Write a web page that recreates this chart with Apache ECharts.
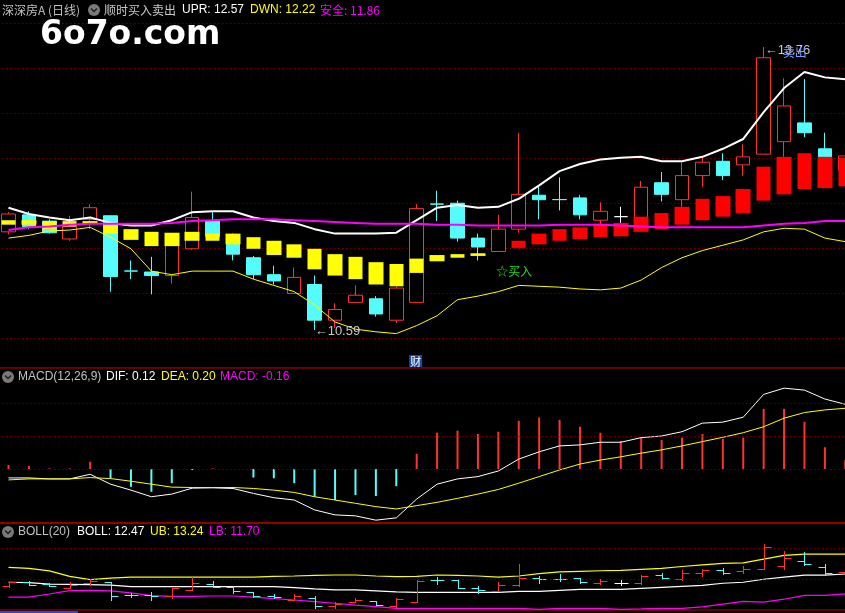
<!DOCTYPE html>
<html><head><meta charset="utf-8">
<script src="https://cdn.jsdelivr.net/npm/echarts@6/dist/echarts.min.js"></script>
<style>html,body{margin:0;padding:0;background:#000;overflow:hidden;width:845px;height:613px;position:relative;}
#c{position:absolute;left:-2px;top:0;width:859px;height:613px;}</style>
</head><body><div id="c"></div>
<script>
// ---------- data ----------
const categories = ['1','2','3','4','5','6','7','8','9','10','11','12','13','14','15','16','17','18','19','20','21','22','23','24','25','26','27','28','29','30','31','32','33','34','35','36','37','38','39','40','41','42'];
const kOpen  = [11.69,11.88,11.81,11.61,11.83,11.87,11.252,11.24,11.20,11.50,11.81,11.64,11.40,11.21,11.00,11.10,10.70,10.90,10.94,10.70,10.90,12.002,12.01,11.62,11.47,11.72,12.10,12.052,12.07,11.82,11.86,11.84,12.24,12.05,12.32,12.48,12.44,12.56,12.70,12.91,12.62,12.38];
const kClose = [11.89,11.75,11.68,11.75,11.96,11.19,11.25,11.20,11.58,11.85,11.64,11.44,11.21,11.14,11.18,10.70,10.82,10.98,10.77,11.06,11.95,12.00,11.62,11.52,11.72,12.11,12.05,12.05,11.88,11.92,11.86,12.19,12.11,12.32,12.47,12.32,12.53,13.64,13.10,12.80,12.32,12.54];
const kLow   = [11.66,11.72,11.67,11.59,11.72,11.02,11.16,10.99,11.11,11.49,11.63,11.37,11.16,11.10,11.00,10.59,10.61,10.90,10.74,10.67,10.90,11.81,11.58,11.37,11.47,11.68,11.83,11.93,11.83,11.78,11.74,11.80,12.03,11.97,12.19,12.27,12.32,12.56,12.53,12.75,12.24,12.33];
const kHigh  = [11.91,11.92,11.83,11.87,12.00,11.87,11.37,11.41,11.62,12.14,11.92,11.67,11.42,11.31,11.29,11.20,10.89,11.09,10.97,11.08,12.00,12.15,12.04,11.67,11.88,12.80,12.21,12.30,12.10,12.02,11.97,12.26,12.36,12.47,12.53,12.57,12.67,13.76,13.41,13.40,12.80,12.57];

// 顺时买入卖出 blocks (UPR top / DWN bottom), trend 0 = yellow, 1 = red
const upr   = [11.82,11.82,11.81,11.81,11.81,11.77,11.72,11.69,11.68,11.69,11.67,11.67,11.63,11.59,11.55,11.50,11.44,11.41,11.35,11.33,11.39,11.43,11.44,11.45,'-',11.59,11.67,11.72,11.74,11.78,11.79,11.86,11.90,11.97,12.06,12.09,12.17,12.42,12.53,12.57,12.53,12.52];
const dwn   = [11.77,11.77,11.72,11.75,11.78,11.67,11.60,11.53,11.53,11.59,11.59,11.55,11.50,11.43,11.40,11.27,11.20,11.16,11.10,11.08,11.23,11.36,11.40,11.42,'-',11.51,11.55,11.59,11.61,11.63,11.64,11.69,11.72,11.77,11.82,11.86,11.90,12.04,12.11,12.17,12.18,12.20];
const trend = [0,0,0,0,0,0,0,0,0,0,0,0,0,0,0,0,0,0,0,0,0,0,0,0,null,1,1,1,1,1,1,1,1,1,1,1,1,1,1,1,1,1];

const upperLine = [11.96,11.89,11.85,11.82,11.85,11.79,11.76,11.76,11.82,11.91,11.92,11.92,11.85,11.81,11.79,11.72,11.67,11.67,11.67,11.68,11.82,11.96,11.99,11.96,11.97,12.06,12.21,12.37,12.45,12.50,12.52,12.53,12.48,12.48,12.53,12.62,12.73,13.03,13.30,13.48,13.42,13.40];
const safeLine  = [11.71,11.74,11.75,11.77,11.78,11.78,11.78,11.78,11.79,11.81,11.82,11.83,11.83,11.83,11.82,11.81,11.80,11.79,11.78,11.78,11.78,11.77,11.77,11.76,11.76,11.76,11.76,11.77,11.77,11.77,11.76,11.75,11.74,11.74,11.74,11.74,11.74,11.76,11.78,11.79,11.81,11.81];
const lowerLine = [11.62,11.65,11.70,11.71,11.74,11.63,11.50,11.25,11.21,11.25,11.25,11.25,11.16,11.09,11.02,10.87,10.68,10.60,10.57,10.55,10.64,10.75,10.93,10.97,11.02,11.09,11.08,11.07,11.05,11.04,11.06,11.15,11.29,11.40,11.48,11.54,11.60,11.69,11.73,11.72,11.62,11.58];

const dif  = [-0.027,-0.027,-0.030,-0.030,-0.016,-0.046,-0.064,-0.084,-0.076,-0.058,-0.057,-0.059,-0.074,-0.087,-0.094,-0.124,-0.139,-0.142,-0.155,-0.148,-0.091,-0.046,-0.030,-0.023,-0.006,0.030,0.052,0.070,0.073,0.081,0.081,0.095,0.100,0.113,0.139,0.142,0.157,0.226,0.245,0.239,0.212,0.196];
const dea  = [-0.033,-0.030,-0.030,-0.030,-0.026,-0.029,-0.037,-0.046,-0.055,-0.056,-0.056,-0.056,-0.059,-0.064,-0.071,-0.084,-0.094,-0.104,-0.114,-0.121,-0.111,-0.101,-0.089,-0.076,-0.062,-0.043,-0.023,-0.003,0.015,0.027,0.037,0.048,0.058,0.070,0.083,0.096,0.110,0.128,0.154,0.171,0.179,0.184];
const macd = [0.012,0.009,0.002,0.002,0.022,-0.028,-0.054,-0.069,-0.043,-0.003,0.002,0,-0.026,-0.028,-0.043,-0.084,-0.094,-0.079,-0.082,-0.052,0.046,0.110,0.116,0.106,0.113,0.146,0.156,0.149,0.128,0.110,0.085,0.095,0.088,0.095,0.106,0.091,0.095,0.182,0.182,0.143,0.066,0.027];

const bollUB  = [12.62,12.57,12.44,12.17,12.01,12.08,12.13,12.13,12.13,12.13,12.13,12.13,12.13,12.17,12.19,12.22,12.24,12.24,12.19,12.16,12.17,12.24,12.22,12.19,12.13,12.19,12.31,12.39,12.42,12.45,12.47,12.52,12.57,12.66,12.74,12.82,12.84,13.03,13.21,13.27,13.27,13.27];
const bollMid = [11.88,11.86,11.79,11.78,11.76,11.74,11.66,11.66,11.66,11.66,11.66,11.66,11.66,11.66,11.61,11.55,11.50,11.50,11.45,11.40,11.38,11.38,11.38,11.38,11.38,11.43,11.43,11.48,11.53,11.53,11.53,11.58,11.63,11.68,11.73,11.83,11.88,12.03,12.13,12.23,12.23,12.29];
const bollLB  = [11.14,11.14,11.30,11.47,11.48,11.45,11.35,11.22,11.18,11.18,11.20,11.20,11.14,11.07,11.00,10.92,10.84,10.75,10.67,10.59,10.59,10.59,10.59,10.59,10.59,10.59,10.54,10.59,10.59,10.59,10.54,10.56,10.59,10.59,10.66,10.80,10.93,10.90,11.04,11.23,11.23,11.30];

const buyIdx = 24;      // ☆买入 signal bar
const financeIdx = 20;  // 财 marker bar

const headerMain = ['深深房A (日线)', '顺时买入卖出', 'UPR: 12.57', 'DWN: 12.22', '安全: 11.86'];
const headerMacd = ['MACD(12,26,9)', 'DIF: 0.12', 'DEA: 0.20', 'MACD: -0.16'];
const headerBoll = ['BOLL(20)', 'BOLL: 12.47', 'UB: 13.24', 'LB: 11.70'];

// ---------- styling ----------
const OX = 2; // canvas is shifted 2px left so the first bar sits at the page edge
const RED = '#ff3232', CYAN = '#54fcfc', WHITE = '#ffffff', YEL = '#ffff00', MAG = '#ff00ff';
const BLOCK_RED = '#ff0000';
const GRIDRED = '#a00000', BORDER = '#c00000';
const LAT = '"Liberation Sans", Arial, "Noto Sans CJK SC", sans-serif';
const CJK = '"Noto Sans CJK SC", "Liberation Sans", sans-serif';

const chart = echarts.init(document.getElementById('c'), null, {renderer: 'canvas', width: 859, height: 613});

const candleData = kOpen.map((o, i) => {
  const item = {value: [o, kClose[i], kLow[i], kHigh[i]]};
  if (o === kClose[i]) {
    item.itemStyle = {color: WHITE, color0: WHITE, borderColor: WHITE, borderColor0: WHITE, borderColorDoji: WHITE};
  }
  return item;
});
const blockData = upr.map((u, i) => {
  if (u === '-') return ['-', '-', '-', '-'];
  const col = trend[i] ? BLOCK_RED : YEL;
  return {value: [dwn[i], u, dwn[i], u], itemStyle: {color: col, color0: col, borderColor: col, borderColor0: col}};
});
const ohlcData = kOpen.map((o, i) => [i, o, kClose[i], kLow[i], kHigh[i]]);

let lowIdx = 0, highIdx = 0;
kLow.forEach((v, i) => { if (v < kLow[lowIdx]) lowIdx = i; });
kHigh.forEach((v, i) => { if (v > kHigh[highIdx]) highIdx = i; });

const hidden = {show: false};
const xAxisBase = (gi) => ({type: 'category', gridIndex: gi, data: categories, boundaryGap: true,
  axisLine: hidden, axisTick: hidden, axisLabel: hidden, splitLine: hidden});
const dotted = {color: GRIDRED, type: [1, 3], width: 1};

function icon(cx, cy) {
  return [
    {type: 'circle', shape: {cx: cx + OX, cy: cy, r: 6}, style: {fill: '#7a7a7a'}, z: 100},
    {type: 'polyline', shape: {points: [[cx + OX - 3, cy - 1.5], [cx + OX, cy + 1.5], [cx + OX + 3, cy - 1.5]]}, style: {stroke: '#202020', lineWidth: 1.5, fill: null}, z: 101}
  ];
}
function txt(x, y, text, fill, fam) {
  return {type: 'text', x: x + OX, y: y, z: 100, style: {text: text, fill: fill, font: '12px ' + (fam || LAT), verticalAlign: 'middle', align: 'left'}};
}

const gridL = 0.3, gridW = 857.2;
const option = {
  backgroundColor: '#000000',
  animation: false,
  grid: [
    {left: gridL, width: gridW, top: 23, height: 344, show: false},
    {left: gridL, width: gridW, top: 368, height: 155, show: true, borderColor: BORDER, borderWidth: 1, backgroundColor: 'transparent'},
    {left: gridL, width: gridW, top: 523, height: 87, show: true, borderColor: BORDER, borderWidth: 1, backgroundColor: 'transparent'}
  ],
  xAxis: [xAxisBase(0), xAxisBase(1), xAxisBase(2)],
  yAxis: [
    {type: 'value', gridIndex: 0, min: 10.176, max: 14.029, show: false},
    {type: 'value', gridIndex: 0, inverse: true, min: 0, max: 7.6444, interval: 1,
      axisLine: hidden, axisTick: hidden, axisLabel: hidden, splitLine: {show: true, lineStyle: dotted}},
    {type: 'value', gridIndex: 1, min: -0.1636, max: 0.306, show: false},
    {type: 'value', gridIndex: 2, min: 10.506, max: 14.815, show: false}
  ],
  series: [
    {
      name: 'K', type: 'candlestick', xAxisIndex: 0, yAxisIndex: 0, z: 2, barWidth: 14,
      data: candleData,
      itemStyle: {color: '#000000', color0: CYAN, borderColor: RED, borderColor0: CYAN, borderColorDoji: CYAN, borderWidth: 1},
      markPoint: {
        symbol: 'circle', symbolSize: 0, silent: true, animation: false,
        data: [
          {coord: [lowIdx, kLow[lowIdx]], label: {show: true, position: 'inside', align: 'left', verticalAlign: 'middle', offset: [0, 1],
            formatter: '←' + kLow[lowIdx].toFixed(2), color: '#c8c8c8', fontSize: 13, fontFamily: LAT}},
          {coord: [highIdx, kHigh[highIdx]], label: {show: true, position: 'inside', align: 'left', verticalAlign: 'middle', offset: [1, 3],
            formatter: '←' + kHigh[highIdx].toFixed(2), color: '#c8c8c8', fontSize: 13, fontFamily: LAT}},
          {coord: [highIdx, kHigh[highIdx]], label: {show: true, position: 'inside', align: 'left', verticalAlign: 'middle', offset: [19, 5],
            formatter: '卖出', color: '#7b9cff', fontSize: 12, fontFamily: CJK}},
          {coord: [financeIdx, 10.176], label: {show: true, position: 'inside', align: 'center', verticalAlign: 'bottom', offset: [-1, 0],
            formatter: '财', color: '#ffffff', fontSize: 11, fontFamily: CJK, backgroundColor: '#1f4a9a', padding: [1, 1, 0, 1]}}
        ]
      }
    },
    {
      name: 'blocks', type: 'candlestick', xAxisIndex: 0, yAxisIndex: 0, z: 3, barWidth: 15,
      data: blockData,
      itemStyle: {borderWidth: 0},
      markPoint: {
        symbol: 'circle', symbolSize: 0, silent: true, animation: false,
        data: [
          {coord: [buyIdx, kLow[buyIdx]], label: {show: true, position: 'inside', align: 'left', verticalAlign: 'middle', offset: [-2, 20],
            formatter: '☆买入', color: '#22dd22', fontSize: 12, fontFamily: CJK}}
        ]
      }
    },
    {name: 'UPPER', type: 'line', xAxisIndex: 0, yAxisIndex: 0, z: 4, data: upperLine, symbol: 'none', lineStyle: {color: WHITE, width: 2}},
    {name: 'SAFE', type: 'line', xAxisIndex: 0, yAxisIndex: 0, z: 4, data: safeLine, symbol: 'none', lineStyle: {color: MAG, width: 2}},
    {name: 'LOWER', type: 'line', xAxisIndex: 0, yAxisIndex: 0, z: 4, data: lowerLine, symbol: 'none', lineStyle: {color: YEL, width: 1}},

    {
      name: 'MACD', type: 'bar', xAxisIndex: 1, yAxisIndex: 2, z: 2, barWidth: 2, data: macd,
      itemStyle: {color: (p) => p.value >= 0 ? RED : CYAN},
      markLine: {silent: true, animation: false, symbol: ['none', 'none'], label: {show: false},
        lineStyle: dotted, emphasis: {disabled: true}, data: [{yAxis: 0}, {yAxis: 0.1}, {yAxis: 0.2}]}
    },
    {name: 'DIF', type: 'line', xAxisIndex: 1, yAxisIndex: 2, z: 4, data: dif, symbol: 'none', lineStyle: {color: WHITE, width: 1}},
    {name: 'DEA', type: 'line', xAxisIndex: 1, yAxisIndex: 2, z: 4, data: dea, symbol: 'none', lineStyle: {color: YEL, width: 1}},

    {
      name: 'OHLC', type: 'custom', xAxisIndex: 2, yAxisIndex: 3, z: 3, data: ohlcData,
      encode: {x: 0, y: [1, 2, 3, 4]},
      renderItem: function (params, api) {
        const i = api.value(0);
        const o = api.coord([i, api.value(1)]);
        const c = api.coord([i, api.value(2)]);
        const l = api.coord([i, api.value(3)]);
        const h = api.coord([i, api.value(4)]);
        const w = api.size([1, 0])[0] * 0.34;
        const col = api.value(2) > api.value(1) ? RED : (api.value(2) < api.value(1) ? CYAN : WHITE);
        const x = Math.round(o[0]) + 0.5;
        const oy = Math.round(o[1]) + 0.5, cy = Math.round(c[1]) + 0.5;
        const st = {stroke: col, lineWidth: 1};
        return {type: 'group', children: [
          {type: 'line', shape: {x1: x, y1: Math.round(h[1]), x2: x, y2: Math.round(l[1]) + 1}, style: st},
          {type: 'line', shape: {x1: x - w, y1: oy, x2: x, y2: oy}, style: st},
          {type: 'line', shape: {x1: x, y1: cy, x2: x + w, y2: cy}, style: st}
        ]};
      }
    },
    {name: 'UB', type: 'line', xAxisIndex: 2, yAxisIndex: 3, z: 2, data: bollUB, symbol: 'none', lineStyle: {color: YEL, width: 1.2},
      markLine: {silent: true, animation: false, symbol: ['none', 'none'], label: {show: false},
        lineStyle: dotted, emphasis: {disabled: true}, data: [{yAxis: 13.562}, {yAxis: 12.041}]}},
    {name: 'BOLL', type: 'line', xAxisIndex: 2, yAxisIndex: 3, z: 2, data: bollMid, symbol: 'none', lineStyle: {color: WHITE, width: 1.2}},
    {name: 'LB', type: 'line', xAxisIndex: 2, yAxisIndex: 3, z: 2, data: bollLB, symbol: 'none', lineStyle: {color: MAG, width: 1.2}}
  ],
  graphic: [].concat(
    [txt(2, 10, headerMain[0], '#c0c0c0', CJK)],
    icon(94, 10),
    [txt(104, 10, headerMain[1], '#c8c8c8', CJK),
     txt(182, 10, headerMain[2], WHITE),
     txt(250, 10, headerMain[3], YEL),
     txt(320, 10, headerMain[4], MAG, CJK)],
    icon(8, 377),
    [txt(18, 377, headerMacd[0], '#c0c0c0'),
     txt(106, 377, headerMacd[1], WHITE),
     txt(161, 377, headerMacd[2], YEL),
     txt(220, 377, headerMacd[3], MAG)],
    icon(8, 532),
    [txt(18, 532, headerBoll[0], '#c0c0c0'),
     txt(77, 532, headerBoll[1], WHITE),
     txt(150, 532, headerBoll[2], YEL),
     txt(209, 532, headerBoll[3], MAG)],
    [{type: 'text', x: 40 + OX, y: 35, z: 120, style: {text: '6o7o.com', fill: '#ffffff', font: 'bold 33px "DejaVu Sans", sans-serif', verticalAlign: 'middle', align: 'left'}},
     {type: 'rect', shape: {x: OX, y: 611, width: 78, height: 2}, style: {fill: '#1a50e0'}, z: 100}]
  )
};
chart.setOption(option);
</script></body></html>
